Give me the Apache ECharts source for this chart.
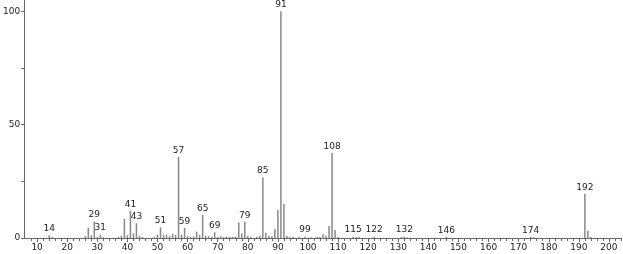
<!DOCTYPE html>
<html><head><meta charset="utf-8">
<script src="https://cdn.jsdelivr.net/npm/echarts@6/dist/echarts.min.js"></script>
<style>html,body{margin:0;padding:0;background:#fff;}#c{width:623px;height:254px;}</style>
</head><body><div id="c"></div>
<script>
var mzValues = [14,15,26,27,28,29,30,31,32,37,38,39,40,41,42,43,44,45,49,50,51,52,53,54,55,56,57,58,59,60,61,62,63,64,65,66,67,68,69,70,71,72,73,74,75,76,77,78,79,80,81,83,84,85,86,87,88,89,90,91,92,93,94,95,97,99,101,103,104,105,106,107,108,109,110,115,116,117,122,131,132,133,146,174,175,192,193,194];
var intensities = [1.2,0.5,0.8,4.5,1.2,7.3,0.5,1.5,0.4,0.4,1.0,8.4,1.2,11.9,2.0,6.5,1.0,0.5,0.4,1.5,4.7,1.5,1.5,0.8,1.8,1.4,35.8,1.5,4.4,1.0,0.6,0.7,2.8,1.3,10.2,1.0,0.8,0.4,2.5,0.5,0.8,0.4,0.6,0.4,0.5,0.5,6.8,2.0,7.2,1.0,0.4,0.5,1.0,26.7,2.3,1.0,0.8,4.0,12.4,100,15.0,1.0,0.3,0.5,0.4,0.6,0.3,0.5,0.4,1.6,1.0,5.3,37.6,3.5,0.4,0.6,0.4,0.4,0.6,0.4,0.6,0.3,0.5,0.5,0.3,19.5,3.2,0.4];
var labeledPeaks = [14,29,31,41,43,51,57,59,65,69,79,85,91,99,108,115,122,132,146,174,192];
var xTickLabels = [10,20,30,40,50,60,70,80,90,100,110,120,130,140,150,160,170,180,190,200];
var xMinorTicks = [];
for (var t = 8; t <= 204; t += 2) xMinorTicks.push(t);
var yTicks = [0,25,50,75,100];
var yTickLabels = [0,50,100];

var data = mzValues.map(function(m,i){ return [m, intensities[i]]; });
var chart = echarts.init(document.getElementById('c'), null, {renderer:'canvas'});
var font = 'DejaVu Sans';
chart.setOption({
  animation:false,
  grid:{left:24,right:2,top:0,bottom:16,containLabel:false},
  xAxis:[{
    type:'value', min:5.7, max:204,
    axisLine:{show:true,lineStyle:{color:'#666',width:1}},
    axisTick:{show:true,length:4,customValues:xTickLabels,lineStyle:{color:'#666'}},
    axisLabel:{show:true,customValues:xTickLabels,margin:5,fontSize:9,fontFamily:font,color:'#222'},
    splitLine:{show:false}
  },{
    type:'value', min:5.7, max:204, position:'bottom',
    axisLine:{show:false},
    axisTick:{show:true,length:3,customValues:xMinorTicks,lineStyle:{color:'#666'}},
    axisLabel:{show:false},
    splitLine:{show:false}
  }],
  yAxis:{
    type:'value', min:0, max:105,
    axisLine:{show:true,lineStyle:{color:'#666',width:1}},
    axisTick:{show:true,length:3,customValues:yTicks,lineStyle:{color:'#666'}},
    axisLabel:{show:true,customValues:yTickLabels,margin:4,fontSize:9,fontFamily:font,color:'#222'},
    splitLine:{show:false}
  },
  series:[{
    type:'bar', xAxisIndex:0, data:data, barWidth:1.5,
    itemStyle:{color:'#888'},
    label:{show:true,position:'top',distance:2,fontSize:9,fontFamily:font,color:'#222',
      formatter:function(p){ return labeledPeaks.indexOf(p.value[0])>=0 ? String(p.value[0]) : ''; }}
  }]
});
</script></body></html>
